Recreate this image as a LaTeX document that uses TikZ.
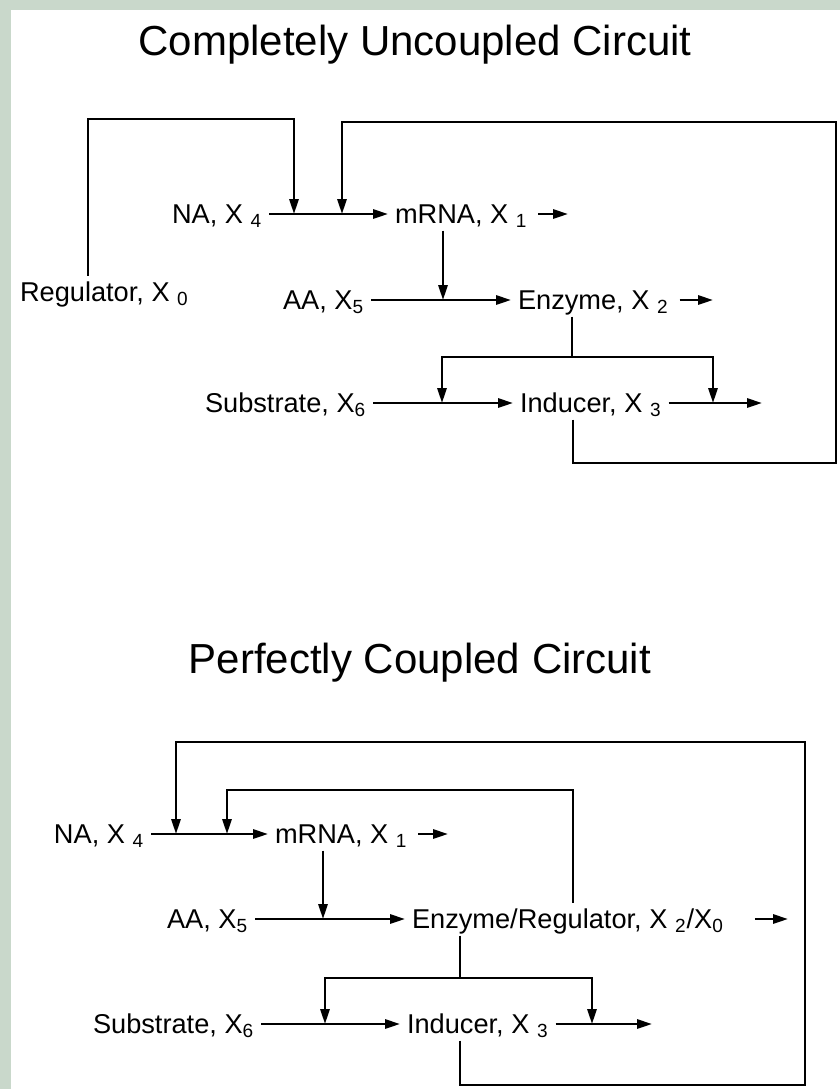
\documentclass[tikz,border=0pt]{standalone}
\usepackage{fontspec}
\setmainfont{Liberation Sans}
\usepackage{tikz}
\usetikzlibrary{arrows.meta}
\definecolor{bgband}{RGB}{201,216,203}

\begin{document}
\begin{tikzpicture}[
  x=0.5pt, y=-0.5pt,
  lbl/.style={anchor=west, inner sep=0pt, outer sep=3.5pt, text height=9.5pt, text depth=0pt,
              font=\fontsize{13.6}{15}\selectfont},
  ttl/.style={anchor=base, font=\fontsize{21}{25}\selectfont},
  wire/.style={line width=1.2pt},
  arr/.style={wire, -{Triangle[length=7.5pt,width=4.6pt]}},
  decay/.style={arr, shorten <=2pt}
]
\useasboundingbox (0,0) rectangle (840,1089);
\fill[bgband] (0,0) rectangle (840,1089);
\fill[white] (11,10) rectangle (840,1089);

\node[ttl] (t1) at (415,55) {Completely Uncoupled Circuit};
\node[lbl] (reg)  at (13,292)  {Regulator, X~\textsubscript{0}};
\node[lbl] (na)   at (165,214) {NA, X~\textsubscript{4}};
\node[lbl] (mrna) at (388,214) {mRNA, X~\textsubscript{1}};
\node[lbl] (aa)   at (276,300) {AA, X\textsubscript{5}};
\node[lbl] (enz)  at (511,300) {Enzyme, X~\textsubscript{2}};
\node[lbl] (sub)  at (198,403) {Substrate, X\textsubscript{6}};
\node[lbl] (ind)  at (513,403) {Inducer, X~\textsubscript{3}};

\coordinate (regTop)  at (88,119);
\coordinate (fbReg)   at (294,214);
\coordinate (fbInd)   at (342,214);
\coordinate (jAA)     at (443,300);
\coordinate (split)   at (572,357);
\coordinate (jSub)    at (442,403);
\coordinate (jInd)    at (713,403);
\coordinate (indBot)  at (573,463);
\coordinate (loopSE)  at (836,463);
\coordinate (loopNE)  at (836,122);
\coordinate (mrnaOut) at (568,214);
\coordinate (enzOut)  at (713,300);
\coordinate (indOut)  at (762,403);

\draw[arr] (na) -- (mrna);
\draw[arr] (aa) -- (enz);
\draw[arr] (sub) -- (ind);
\draw[arr] (ind) -- (indOut);
\draw[decay] (mrna) -- (mrnaOut);
\draw[decay] (enz) -- (enzOut);
\draw[arr] (reg.north -| regTop) -- (regTop) -| (fbReg);
\draw[arr] (mrna.south -| jAA) -- (jAA);
\draw[wire] (enz.south -| split) -- (split);
\draw[arr] (split) -| (jSub);
\draw[arr] (split) -| (jInd);
\draw[arr] (ind.south -| indBot) -- (indBot) -- (loopSE) -- (loopNE) -| (fbInd);

\node[ttl] (t2) at (420,673) {Perfectly Coupled Circuit};
\node[lbl] (na2)   at (47,834)   {NA, X~\textsubscript{4}};
\node[lbl] (mrna2) at (268,834)  {mRNA, X~\textsubscript{1}};
\node[lbl] (aa2)   at (160,919)  {AA, X\textsubscript{5}};
\node[lbl] (er)    at (405,919)  {Enzyme/Regulator, X~\textsubscript{2}/X\textsubscript{0}};
\node[lbl] (sub2)  at (86,1024)  {Substrate, X\textsubscript{6}};
\node[lbl] (ind2)  at (400,1024) {Inducer, X~\textsubscript{3}};

\coordinate (fbOut)    at (176,834);
\coordinate (fbIn)     at (227,834);
\coordinate (erUp)     at (573,790);
\coordinate (jAA2)     at (323,919);
\coordinate (split2)   at (460,978);
\coordinate (jSub2)    at (325,1024);
\coordinate (jInd2)    at (592,1024);
\coordinate (ind2Bot)  at (460,1085);
\coordinate (loop2SE)  at (805,1085);
\coordinate (loop2NE)  at (805,742);
\coordinate (mrna2Out) at (448,834);
\coordinate (erOut)    at (788,919);
\coordinate (ind2Out)  at (652,1024);

\draw[arr] (na2) -- (mrna2);
\draw[arr] (aa2) -- (er);
\draw[arr] (sub2) -- (ind2);
\draw[arr] (ind2) -- (ind2Out);
\draw[decay] (mrna2) -- (mrna2Out);
\draw[decay, shorten <=12pt] (er) -- (erOut);
\draw[arr] (er.north -| erUp) -- (erUp) -| (fbIn);
\draw[arr] (mrna2.south -| jAA2) -- (jAA2);
\draw[wire] (er.south -| split2) -- (split2);
\draw[arr] (split2) -| (jSub2);
\draw[arr] (split2) -| (jInd2);
\draw[arr] (ind2.south -| ind2Bot) -- (ind2Bot) -- (loop2SE) -- (loop2NE) -| (fbOut);
\end{tikzpicture}
\end{document}
